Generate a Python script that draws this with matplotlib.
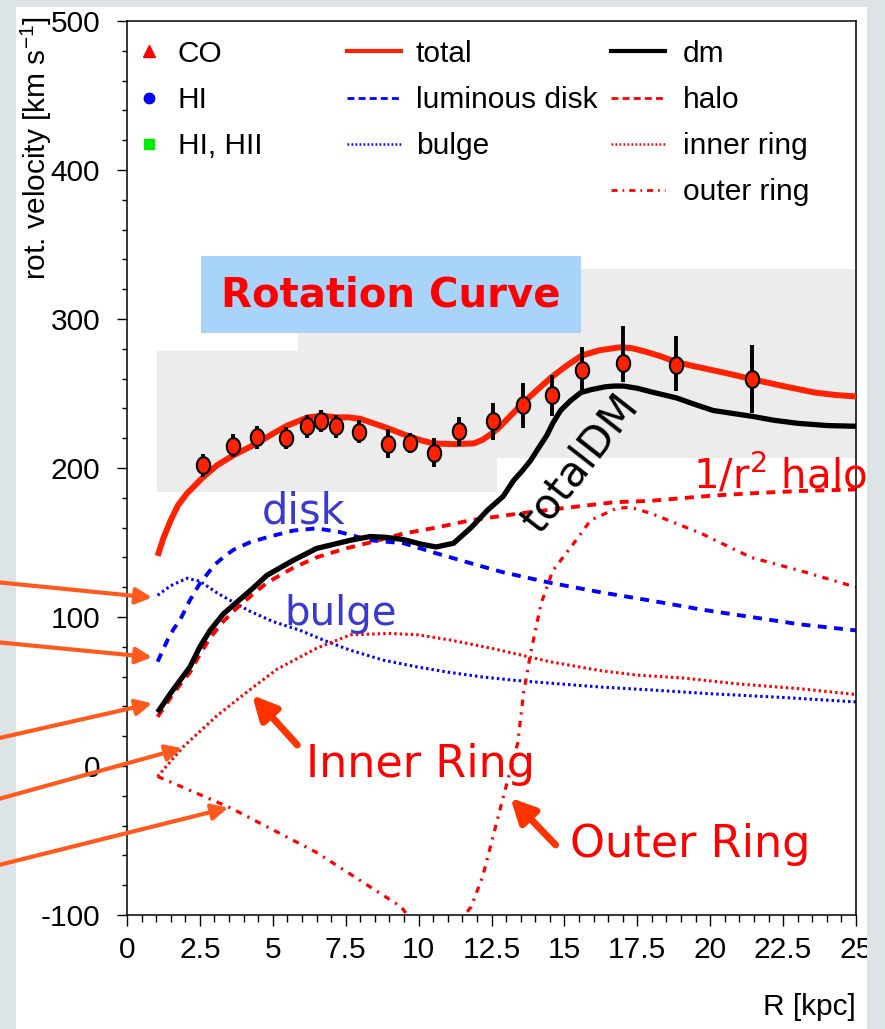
import numpy as np
import matplotlib
matplotlib.use("Agg")
import matplotlib.pyplot as plt
from matplotlib import font_manager
from matplotlib.patches import Rectangle
from matplotlib.lines import Line2D
from matplotlib.path import Path
from matplotlib.ticker import MultipleLocator, FuncFormatter

# ROOT style plots use a narrow helvetica, take the narrow Liberation face if there is one
names = {f.name for f in font_manager.fontManager.ttflist}
if 'Liberation Sans Narrow' in names:
    FONT, FS = 'Liberation Sans Narrow', 24.5
else:
    FONT, FS = 'Liberation Sans', 21.5
plt.rcParams['font.family'] = [FONT, 'DejaVu Sans']
plt.rcParams['axes.unicode_minus'] = False
plt.rcParams['mathtext.fontset'] = 'custom'
plt.rcParams['mathtext.rm'] = FONT

# measured rotation velocities
R_pts = [2.62, 3.65, 4.45, 5.45, 6.17, 6.67, 7.18, 7.96, 8.96, 9.72, 10.54, 11.39,
         12.56, 13.59, 14.56, 15.61, 17.02, 18.84, 21.45]
V_pts = [201.7, 215.1, 220.7, 220.2, 227.9, 231.4, 228.0, 224.3, 216.2, 216.9, 210.2, 224.5,
         231.4, 242.0, 248.7, 265.9, 270.6, 268.8, 259.8]
err_lo = [7.5, 7.8, 7.8, 7.6, 7.5, 7.5, 7.8, 7.8, 9.7, 6.8, 9.8, 10.0,
          12.3, 15.0, 14.0, 15.6, 13.0, 17.0, 23.0]
err_hi = [7.5, 7.8, 7.8, 7.6, 7.5, 7.5, 7.8, 7.8, 9.7, 6.8, 9.8, 10.0,
          12.3, 15.0, 14.0, 15.6, 25.0, 20.0, 23.0]

# model curves
R_total = [1.05, 1.25, 1.5, 1.75, 2.06, 2.62, 3.1, 3.65, 4.45, 5.0, 5.5, 6.2, 6.7, 7.2, 7.6,
           8.0, 8.9, 9.3, 9.7, 10.1, 10.5, 11.2, 11.9, 12.2, 12.5, 12.75, 13.0, 13.3, 13.6,
           14.1, 14.56, 15.1, 15.6, 16.2, 16.9, 17.3, 17.8, 18.3, 18.85, 19.4, 20.0, 20.7,
           21.45, 22.5, 23.6, 24.3, 25.0]
V_total = [141, 153, 165, 175, 183, 194, 202, 208.5, 216.5, 223, 228.5, 234, 235, 234, 234,
           233, 227, 224, 221, 218.5, 216.5, 216, 216.5, 219, 223, 227, 232, 238, 244,
           253, 261, 269, 275.5, 279, 281, 280.5, 278, 275, 271, 268.5, 266, 263,
           259.5, 255, 250.6, 249, 248]

R_dm = [1.05, 1.5, 2.16, 2.5, 2.85, 3.3, 3.77, 4.3, 4.8, 5.7, 6.5, 7.66, 8.34, 8.86, 9.48,
        10.06, 10.6, 11.2, 11.8, 12.36, 12.9, 13.26, 13.55, 13.84, 14.1, 14.4, 14.6, 14.87,
        15.2, 15.56, 15.9, 16.4, 16.7, 17.03, 17.5, 18.0, 18.85, 19.5, 20.1, 21.46, 22.2,
        23.0, 24.0, 25.0]
V_dm = [36, 49, 66.5, 80, 91, 102, 110, 119, 128, 138, 146, 151.5, 154, 153.5, 152,
        149, 147, 149.5, 160, 171.6, 181, 191.7, 198, 205, 213, 222, 230, 238.6,
        245, 250.6, 252.5, 254.5, 255, 255, 253.5, 251, 247, 242.5, 238.6, 234.6, 232,
        230, 228.5, 228]

R_halo = [1.05, 1.5, 1.8, 2.16, 2.5, 2.85, 3.3, 3.77, 4.3, 4.8, 5.7, 6.5, 7.5, 8.34, 9.48,
          10.6, 11.8, 13.5, 15.2, 16.7, 17.96, 20.1, 21.4, 23.0, 25.0]
V_halo = [33, 46, 54, 63, 75, 86, 97, 106, 115, 123, 133, 140, 146, 150, 156,
          160, 165, 169.6, 173.6, 177, 178, 181.5, 183, 184.5, 185.6]

R_disk = [1.05, 1.4, 1.6, 1.82, 2.15, 2.5, 2.8, 3.0, 3.3, 3.64, 4.2, 4.8, 5.7, 6.5, 7.3,
          8.34, 9.48, 10.6, 11.8, 12.9, 14.5, 16.24, 17.96, 19.7, 21.4, 23.1, 25.0]
V_disk = [70, 85, 92, 98, 111, 122.5, 130, 135, 140, 145, 150, 153.5, 158, 159.5, 157,
          151.5, 149.5, 142.8, 136, 130, 123, 116.6, 111, 105, 100, 95, 91]

R_bulge = [1.05, 1.5, 2.06, 2.5, 3.1, 4.2, 5.0, 5.94, 6.8, 7.66, 8.8, 9.95, 11.0, 12.2, 13.3,
           14.5, 16.24, 18.0, 20.0, 22.5, 25.0]
V_bulge = [114.6, 121, 126, 124, 116, 104, 97, 91, 84, 77.7, 71, 66.5, 63, 59.7, 57.5,
           55.6, 53, 51, 48.5, 46, 43]

R_inner = [1.05, 1.92, 3.1, 4.2, 5.15, 6.5, 7.66, 9.0, 10.0, 11.1, 12.5, 13.84, 14.5, 16.24,
           17.5, 19.1, 21.0, 23.0, 25.0]
V_inner = [-7, 12.7, 34, 51, 65, 79, 88, 89, 88, 84.5, 79, 73, 70, 64,
           61, 59, 55, 52, 48]

R_outer = [1.05, 3.54, 6.5, 9.4, 10.6, 11.8, 12.2, 12.9, 13.4, 13.6, 13.84, 14.2, 14.6, 15.4,
           15.9, 16.8, 17.27, 17.96, 19.7, 21.4, 23.1, 25.0]
V_outer = [-7, -28, -58, -94.5, -125, -94.5, -74, -21, 15.4, 49, 75.7, 109, 131, 151.5,
           165, 173, 173.6, 169.6, 156, 140, 131, 120]

RED = '#ff2200'
BLUE = '#0000ff'
HRED = '#ff0000'
ARROW = '#ff5a1e'

fig = plt.figure(figsize=(8.85, 10.29), dpi=100, facecolor='#dde4e7')
fig.add_artist(Rectangle((16/885, 0), (867-16)/885, (1029-7)/1029, transform=fig.transFigure,
                         fc='white', ec='none', zorder=-10))

ax = fig.add_axes([127/885, 1-915/1029, 729/885, 894/1029])
ax.set_facecolor('none')
ax.set_xlim(0, 25)
ax.set_ylim(-100, 500)

# grey / blue slide boxes behind the curves
ax.add_patch(Rectangle((1.03, 183.6), 12.7-1.03, 278.8-183.6, fc='#ececec', ec='none', zorder=0))
ax.add_patch(Rectangle((5.87, 206.4), 25-5.87, 333.8-206.4, fc='#ececec', ec='none', zorder=0))
ax.add_patch(Rectangle((2.53, 290.9), 15.56-2.53, 342.5-290.9, fc='#a8d4fb', ec='none', zorder=0.5))
ax.text(9.03, 316, 'Rotation Curve', color=HRED, fontsize=29, fontweight='bold',
        family='DejaVu Sans', ha='center', va='center', zorder=1)

# curves
ax.plot(R_disk, V_disk, color=BLUE, lw=2.8, ls=(0, (2.3, 1.9)), zorder=2)
ax.plot(R_bulge, V_bulge, color=BLUE, lw=2.2, ls=(0, (0.8, 1.0)), zorder=2)
ax.plot(R_inner, V_inner, color=HRED, lw=2.2, ls=(0, (0.8, 1.0)), zorder=2)
ax.plot(R_outer, V_outer, color=HRED, lw=2.3, ls=(0, (2.0, 2.0, 0.7, 2.0)), zorder=2)
ax.plot(R_halo, V_halo, color=HRED, lw=2.8, ls=(0, (2.3, 1.9)), zorder=2)
ax.plot(R_dm, V_dm, color='black', lw=3.8, zorder=3, solid_capstyle='butt',
        solid_joinstyle='round')
ax.plot(R_total, V_total, color=RED, lw=4.3, zorder=3, solid_capstyle='butt',
        solid_joinstyle='round')

t = np.linspace(0, 2*np.pi, 60)
ellipse = Path(np.column_stack([0.8*np.cos(t), np.sin(t)]))
ax.errorbar(R_pts, V_pts, yerr=[err_lo, err_hi], fmt='none', ecolor='black',
            elinewidth=2.8, capsize=0, zorder=4)
ax.plot(R_pts, V_pts, ls='none', marker=ellipse, ms=12, mfc=RED, mec='black',
        mew=1.5, zorder=5)

# annotations
ann = dict(family='DejaVu Sans', ha='center', va='baseline', zorder=6)
ax.text(6.04, 162.9, 'disk', color='#3a3acc', fontsize=30, **ann)
ax.text(7.31, 94.5, 'bulge', color='#3a3acc', fontsize=29, **ann)
ax.text(10.06, -7.4, 'Inner Ring', color=HRED, fontsize=32, **ann)
ax.text(19.33, -61, 'Outer Ring', color=HRED, fontsize=32, **ann)
ax.text(22.4, 186, '1/r$^2$ halo', color=HRED, fontsize=29, clip_on=False,
        math_fontfamily='dejavusans', **ann)
ax.text(15.56, 203.7, 'totalDM', color='black', fontsize=30, rotation=52,
        family='DejaVu Sans', ha='center', va='center', rotation_mode='anchor', zorder=6)

big = dict(arrowstyle='-|>', color='#ff3300', lw=5, mutation_scale=36, shrinkA=0, shrinkB=0)
ax.annotate('', xy=(4.29, 47.6), xytext=(5.84, 14.1), arrowprops=big, zorder=6)
ax.annotate('', xy=(13.15, -21.4), xytext=(14.7, -53), arrowprops=big, zorder=6)

# arrows from the slide margin to the curve starts
tips = [(0.86, 113), (0.86, 73), (0.86, 42), (1.89, 12), (3.47, -28)]
tails_px = [582, 642, 739, 800, 866]
small = dict(arrowstyle='-|>', color=ARROW, lw=3, mutation_scale=24, shrinkA=0, shrinkB=0)
for (tx, ty), yp in zip(tips, tails_px):
    ax.annotate('', xy=(tx, ty), xytext=(-5, 1029 - yp), textcoords='figure pixels',
                arrowprops=small, annotation_clip=False, zorder=7)

# axes style
ax.xaxis.set_major_locator(MultipleLocator(2.5))
ax.xaxis.set_minor_locator(MultipleLocator(0.5))
ax.yaxis.set_major_locator(MultipleLocator(100))
ax.yaxis.set_minor_locator(MultipleLocator(20))
ax.xaxis.set_major_formatter(FuncFormatter(lambda v, p: '%g' % v))
ax.tick_params(axis='both', which='both', direction='out', top=False, right=False,
               labelsize=FS, width=1)
ax.tick_params(axis='y', which='major', length=7.2, pad=12)
ax.tick_params(axis='y', which='minor', length=3.8)
ax.tick_params(axis='x', which='major', length=8, pad=7)
ax.tick_params(axis='x', which='minor', length=5)
for s in ax.spines.values():
    s.set_linewidth(1.1)

fig.text(36/885, 1-16/1029, 'rot. velocity [km s$^{-1}$]', rotation=90, fontsize=FS,
         ha='center', va='top')
fig.text(856/885, 1-1007/1029, 'R [kpc]', fontsize=FS, ha='right', va='center')

# legends
h1 = [Line2D([], [], ls='none', marker='^', color='#ff0000', ms=8),
      Line2D([], [], ls='none', marker='o', color='#0000ff', ms=7.5),
      Line2D([], [], ls='none', marker='s', color='#00ee00', ms=7)]
h2 = [Line2D([], [], color=RED, lw=3),
      Line2D([], [], color=BLUE, lw=2, ls=(0, (2.5, 1.5))),
      Line2D([], [], color=BLUE, lw=1.8, ls=(0, (0.7, 0.9)))]
h3 = [Line2D([], [], color='black', lw=3),
      Line2D([], [], color=HRED, lw=2, ls=(0, (2.5, 1.5))),
      Line2D([], [], color=HRED, lw=1.8, ls=(0, (0.7, 0.9))),
      Line2D([], [], color=HRED, lw=2, ls=(0, (2.2, 1.8, 0.6, 1.8)))]
sp = 0.61 * 21.5 / FS
common = dict(loc='upper left', frameon=False, fontsize=FS, borderpad=0, borderaxespad=0,
              labelspacing=sp)
k = 21.5 / FS
leg1 = ax.legend(h1, ['CO', 'HI', 'HI, HII'], bbox_to_anchor=(0.0141, 0.979),
                 handlelength=0.8*k, handletextpad=0.56*k, **common)
ax.add_artist(leg1)
leg2 = ax.legend(h2, ['total', 'luminous disk', 'bulge'], bbox_to_anchor=(0.3018, 0.979),
                 handlelength=1.82*k, handletextpad=0.48*k, **common)
ax.add_artist(leg2)
ax.legend(h3, ['dm', 'halo', 'inner ring', 'outer ring'], bbox_to_anchor=(0.664, 0.979),
          handlelength=1.82*k, handletextpad=0.58*k, **common)

# slide margin on the right cuts the last tick label
fig.add_artist(Rectangle((867/885, 0), 18/885, 1, transform=fig.transFigure,
                         fc='#dde4e7', ec='none', zorder=10))

fig.savefig('out.png', dpi=100, facecolor=fig.get_facecolor())
